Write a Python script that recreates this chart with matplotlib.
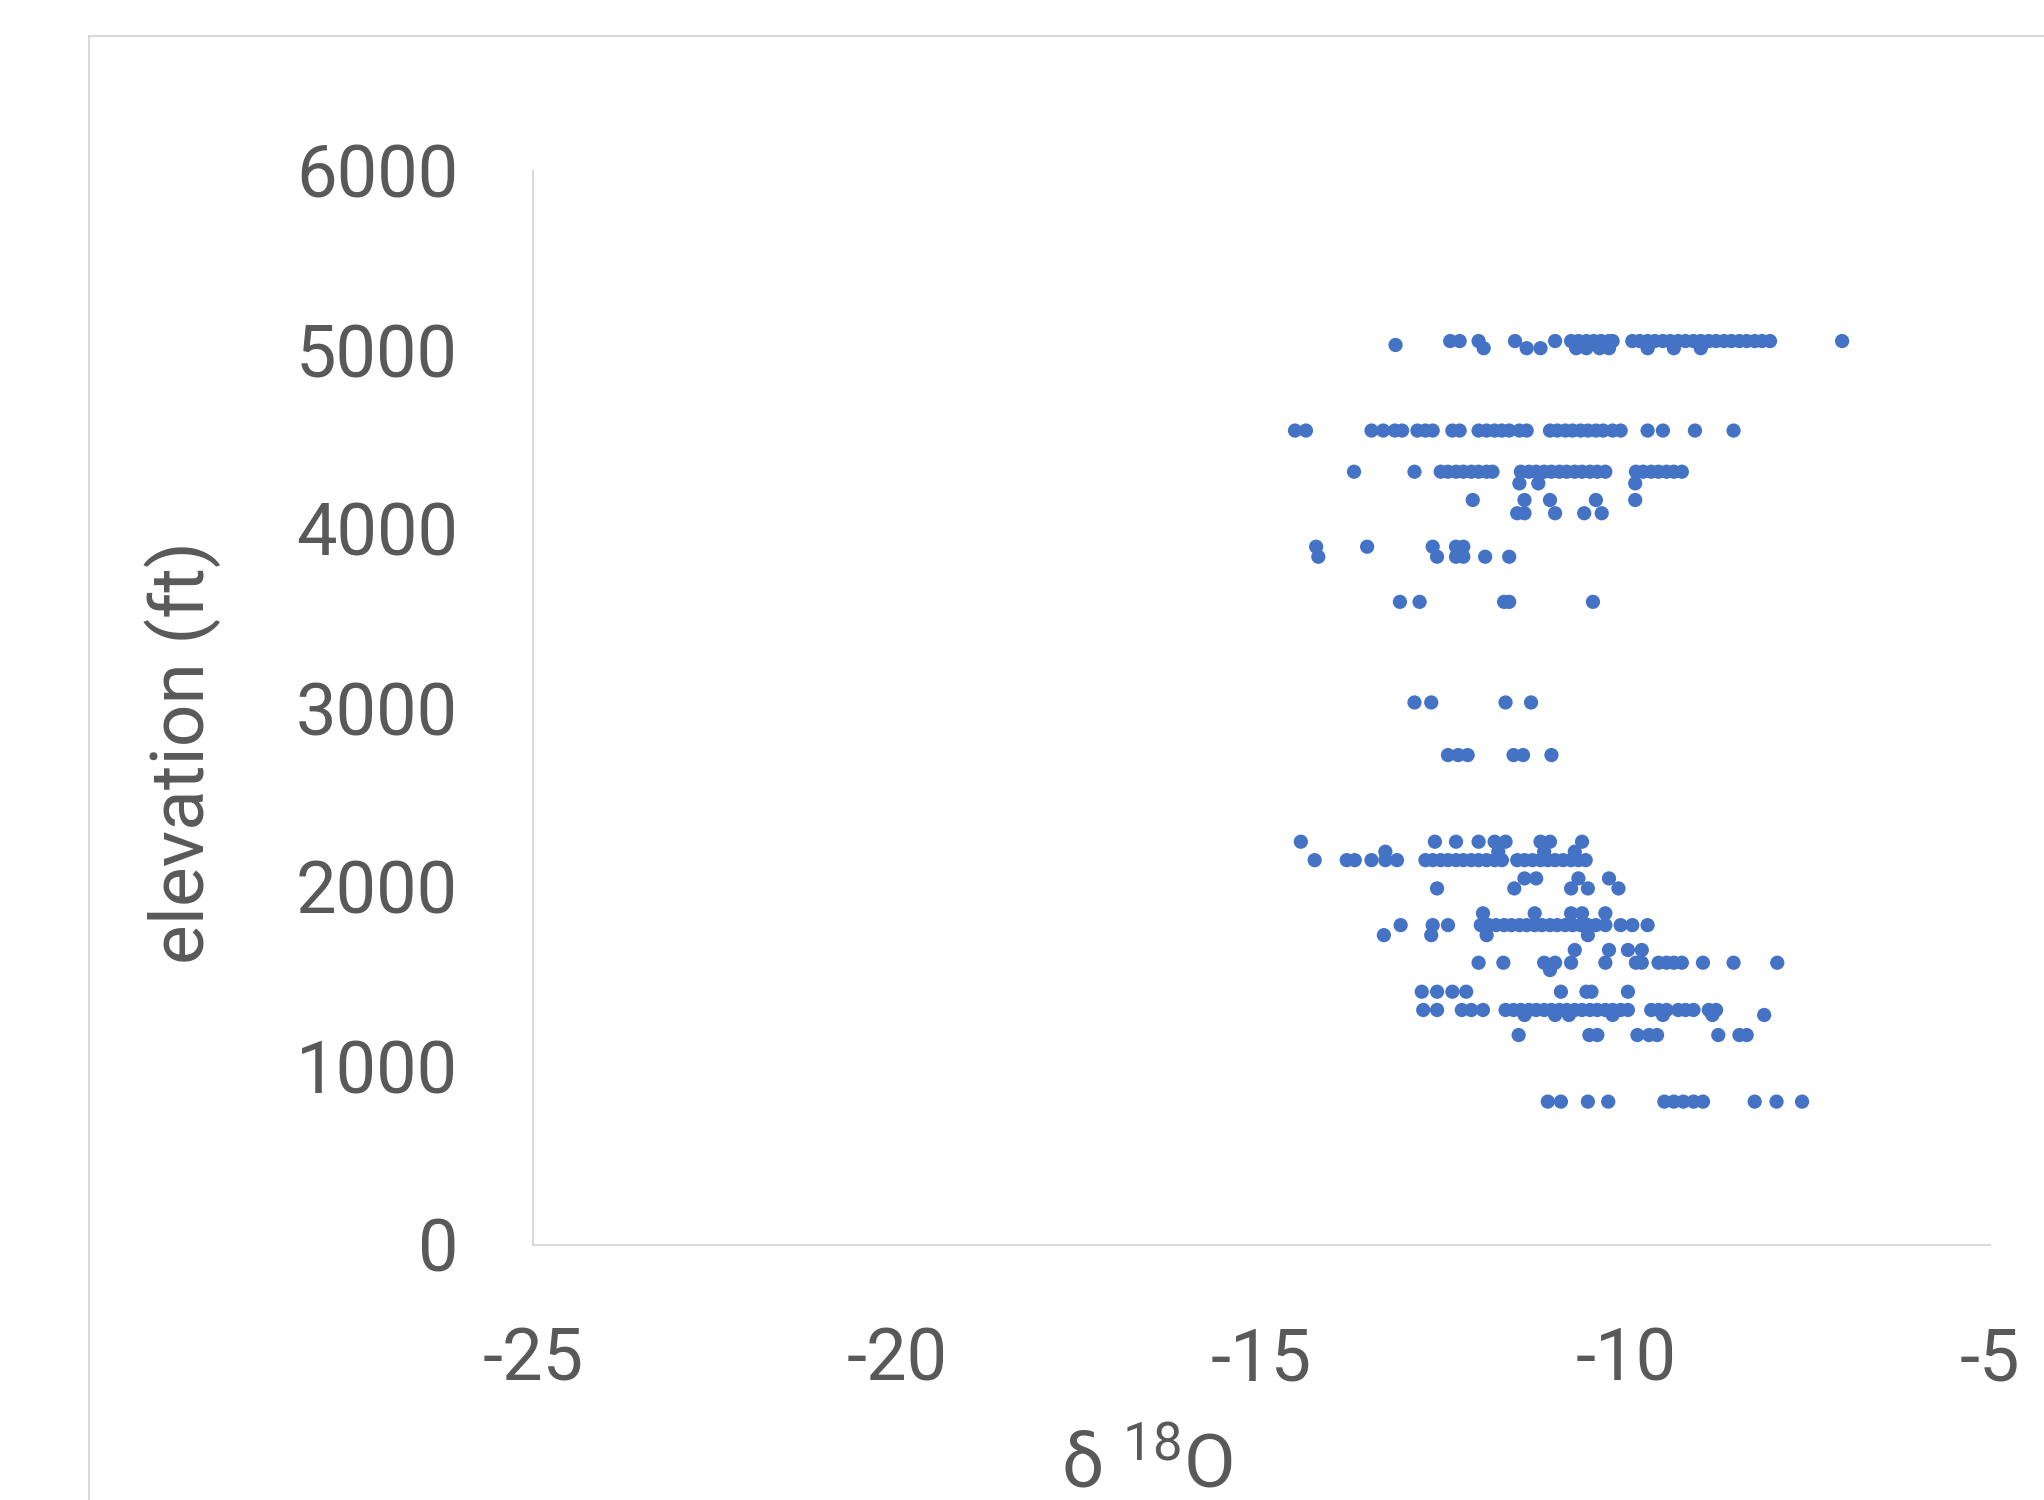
import matplotlib
matplotlib.use("Agg")
import matplotlib.pyplot as plt
from matplotlib.patches import Rectangle

plt.rcParams['font.family'] = ['Roboto', 'DejaVu Sans']
plt.rcParams['axes.unicode_minus'] = False
plt.rcParams['mathtext.fontset'] = 'custom'
plt.rcParams['mathtext.rm'] = 'Roboto'
plt.rcParams['mathtext.it'] = 'Roboto'

# elevation (ft) of each row of samples, and the d18O values in that row
row_elevations = [5050, 5028, 5010, 4550, 4320, 4255, 4162, 4088, 3901, 3845,
                  3593, 3031, 2737, 2253, 2197, 2150, 2048, 1992, 1853, 1787,
                  1731, 1648, 1577, 1536, 1415, 1313, 1285, 1173, 801]

d18o_5050 = [-12.41, -12.28, -12.02, -11.52, -10.97, -10.75, -10.65, -10.54, -10.44,
             -10.34, -10.23, -10.18, -9.91, -9.81, -9.70, -9.60, -9.49, -9.39, -9.28,
             -9.18, -9.07, -8.97, -8.86, -8.76, -8.65, -8.55, -8.44, -8.34, -8.23,
             -8.13, -8.02, -7.03]
d18o_5028 = [-13.16]
d18o_5010 = [-11.95, -11.36, -11.17, -10.68, -10.54, -10.36, -10.23, -9.70, -9.34, -8.97]
d18o_4550 = [-14.54, -14.39, -13.49, -13.33, -13.17, -13.07, -12.86, -12.75, -12.65,
             -12.38, -12.28, -12.02, -11.91, -11.80, -11.70, -11.60, -11.46, -11.36,
             -11.04, -10.94, -10.83, -10.73, -10.62, -10.52, -10.41, -10.31, -10.18,
             -10.07, -9.70, -9.49, -9.05, -8.52]
d18o_4320 = [-13.73, -12.90, -12.54, -12.44, -12.33, -12.23, -12.12, -12.02, -11.91,
             -11.83, -11.44, -11.33, -11.23, -11.12, -11.02, -10.91, -10.81, -10.70,
             -10.60, -10.49, -10.39, -10.28, -9.86, -9.76, -9.65, -9.55, -9.44, -9.34,
             -9.23]
d18o_4255 = [-11.46, -11.20, -9.87]
d18o_4162 = [-12.10, -11.39, -11.04, -10.41, -9.87]
d18o_4088 = [-11.49, -11.39, -10.97, -10.57, -10.33]
d18o_3901 = [-14.25, -13.55, -12.65, -12.33, -12.23]
d18o_3845 = [-14.22, -12.59, -12.33, -12.23, -11.93, -11.60]
d18o_3593 = [-13.10, -12.83, -11.67, -11.60, -10.45]
d18o_3031 = [-12.90, -12.67, -11.65, -11.30]
d18o_2737 = [-12.44, -12.30, -12.17, -11.54, -11.41, -11.02]
d18o_2253 = [-14.46, -12.62, -12.33, -12.02, -11.80, -11.65, -11.17, -11.04, -10.60]
d18o_2197 = [-13.30, -11.75, -11.12, -10.70]
d18o_2150 = [-14.27, -13.83, -13.72, -13.49, -13.30, -13.14, -12.75, -12.65, -12.54,
             -12.44, -12.33, -12.23, -12.12, -12.02, -11.91, -11.80, -11.70, -11.49,
             -11.39, -11.28, -11.17, -11.07, -10.97, -10.86, -10.75, -10.65, -10.55]
d18o_2048 = [-11.39, -11.23, -10.65, -10.23]
d18o_1992 = [-12.59, -11.53, -10.75, -10.52, -10.10]
d18o_1853 = [-11.96, -11.25, -10.75, -10.60, -10.28]
d18o_1787 = [-13.09, -12.65, -12.44, -11.99, -11.88, -11.78, -11.67, -11.57, -11.46,
             -11.36, -11.25, -11.15, -11.04, -10.94, -10.83, -10.73, -10.62, -10.52,
             -10.41, -10.28, -10.07, -9.91, -9.70]
d18o_1731 = [-13.32, -12.67, -11.91, -10.52]
d18o_1648 = [-10.70, -10.23, -9.97, -9.78]
d18o_1577 = [-12.02, -11.68, -11.12, -10.97, -10.75, -10.28, -9.86, -9.78, -9.55,
             -9.44, -9.34, -9.23, -8.94, -8.52, -7.92]
d18o_1536 = [-11.04]
d18o_1415 = [-12.80, -12.59, -12.38, -12.19, -10.89, -10.54, -10.47, -9.97]
d18o_1313 = [-12.78, -12.59, -12.25, -12.12, -11.96, -11.65, -11.54, -11.44, -11.33,
             -11.23, -11.12, -11.02, -10.91, -10.81, -10.70, -10.60, -10.49, -10.39,
             -10.28, -10.18, -10.07, -9.97, -9.65, -9.55, -9.44, -9.28, -9.18, -9.07,
             -8.86, -8.76]
d18o_1285 = [-11.39, -10.97, -10.78, -10.18, -9.49, -8.81, -8.10]
d18o_1173 = [-11.47, -10.50, -10.39, -9.84, -9.68, -9.57, -8.73, -8.44, -8.34]
d18o_801 = [-11.07, -10.89, -10.52, -10.24, -9.47, -9.34, -9.21, -9.07, -8.94,
            -8.23, -7.93, -7.58]

row_d18o = [d18o_5050, d18o_5028, d18o_5010, d18o_4550, d18o_4320, d18o_4255,
            d18o_4162, d18o_4088, d18o_3901, d18o_3845, d18o_3593, d18o_3031,
            d18o_2737, d18o_2253, d18o_2197, d18o_2150, d18o_2048, d18o_1992,
            d18o_1853, d18o_1787, d18o_1731, d18o_1648, d18o_1577, d18o_1536,
            d18o_1415, d18o_1313, d18o_1285, d18o_1173, d18o_801]

x_ticks = [-25, -20, -15, -10, -5]
y_ticks = [0, 1000, 2000, 3000, 4000, 5000, 6000]

xs, ys = [], []
for elev, vals in zip(row_elevations, row_d18o):
    xs.extend(vals)
    ys.extend([elev] * len(vals))

fig = plt.figure(figsize=(20.44, 15.0), dpi=100)
fig.patches.append(Rectangle((89 / 2044, -0.1), 1.2, 1.1 - 36 / 1500,
                             transform=fig.transFigure, fill=False,
                             edgecolor='#d9d9d9', linewidth=1.5))

ax = fig.add_axes([533 / 2044, 1 - 1245 / 1500, (1990 - 533) / 2044, (1245 - 171) / 1500])
ax.scatter(xs, ys, s=105, color='#4472C4', edgecolors='none', zorder=3)

ax.set_xlim(-25, -5)
ax.set_ylim(0, 6000)
ax.set_xticks(x_ticks)
ax.set_yticks(y_ticks)
ax.set_xticklabels([str(v) for v in x_ticks])
ax.set_yticklabels([str(v) for v in y_ticks])
for s in ['top', 'right']:
    ax.spines[s].set_visible(False)
for s in ['left', 'bottom']:
    ax.spines[s].set_color('#d9d9d9')
    ax.spines[s].set_linewidth(1.5)
ax.tick_params(axis='both', length=0, labelsize=52, colors='#595959')
ax.tick_params(axis='y', pad=54)
ax.tick_params(axis='x', pad=59)

fig.text(183 / 2044, 1 - 753 / 1500, 'elevation (ft)', rotation=90,
         ha='center', va='center', fontsize=54, color='#595959')
fig.text(1147 / 2044, 1 - 1467 / 1500, 'δ $^{18}$O', ha='center', va='center',
         fontsize=54, color='#595959')

fig.savefig('out.png', dpi=100)
